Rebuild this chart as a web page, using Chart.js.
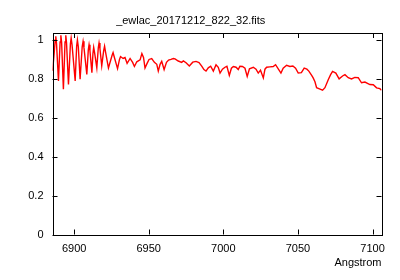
<!DOCTYPE html>
<html>
<head>
<meta charset="utf-8">
<script src="https://cdn.jsdelivr.net/npm/chart.js@4.4.1/dist/chart.umd.min.js"></script>
<style>
  html, body { margin: 0; padding: 0; background: #fff; }
  #wrap { width: 400px; height: 280px; }
</style>
</head>
<body>
<div id="wrap"><canvas id="spec-canvas" width="400" height="280"></canvas></div>
<script>
const titleText = "_ewlac_20171212_822_32.fits"
const xLabel = "Angstrom"
const xTicks = [6900, 6950, 7000, 7050, 7100]
const yTicks = [0, 0.2, 0.4, 0.6, 0.8, 1]

// wavelength (Angstrom) and normalised flux
const wave = [
    6885.6, 6886.6, 6887.3, 6887.7, 6888.2, 6889.5, 6890.6, 6891.1, 6891.6, 6892.8,
    6893.9, 6894.4, 6894.9, 6896.2, 6897.5, 6898.0, 6898.6, 6900.7, 6901.7, 6902.2,
    6902.8, 6904.0, 6905.4, 6906.0, 6906.6, 6908.5, 6909.5, 6910.0, 6910.6, 6911.9,
    6912.6, 6913.1, 6913.7, 6915.2, 6916.2, 6916.7, 6917.3, 6918.5, 6919.8, 6920.4,
    6921.0, 6923.0, 6925.4, 6926.1, 6926.8, 6929.1, 6930.4, 6931.1, 6932.8, 6934.1,
    6935.5, 6937.5, 6939.2, 6940.4, 6942.0, 6944.2, 6945.4, 6946.5, 6947.5, 6948.9,
    6950.2, 6952.0, 6953.8, 6955.4, 6956.4, 6957.6, 6958.7, 6960.3, 6961.9, 6963.3,
    6964.9, 6966.5, 6967.6, 6969.8, 6972.1, 6973.2, 6975.0, 6977.2, 6979.5, 6981.7,
    6983.7, 6985.5, 6987.0, 6988.4, 6989.9, 6991.5, 6993.3, 6995.1, 6996.6, 6997.8,
    6999.4, 7001.1, 7002.4, 7004.0, 7005.4, 7006.7, 7008.5, 7010.0, 7011.1, 7012.8,
    7014.5, 7016.0, 7017.5, 7020.1, 7021.9, 7023.4, 7024.9, 7026.8, 7027.9, 7029.0,
    7031.2, 7033.4, 7035.0, 7036.8, 7038.6, 7040.1, 7042.4, 7044.6, 7046.6, 7048.4,
    7050.2, 7052.3, 7054.2, 7056.0, 7057.3, 7059.2, 7060.2, 7061.4, 7062.5, 7064.0,
    7066.5, 7068.1, 7070.3, 7071.9, 7073.2, 7075.4, 7077.6, 7079.9, 7081.5, 7083.7,
    7085.9, 7088.1, 7090.4, 7092.6, 7094.9, 7098.2, 7100.5, 7102.7, 7104.9, 7106.0
]
const flux = [
    0.842, 0.930, 1.000, 1.019, 0.980, 0.790, 0.990, 1.024, 0.990, 0.747,
    0.990, 1.024, 0.985, 0.772, 0.980, 1.010, 0.975, 0.790, 0.970, 1.000,
    0.965, 0.798, 0.965, 0.993, 0.960, 0.823, 0.950, 0.976, 0.945, 0.832,
    0.930, 0.962, 0.935, 0.857, 0.960, 0.985, 0.955, 0.868, 0.945, 0.968,
    0.940, 0.856, 0.920, 0.935, 0.915, 0.853, 0.900, 0.915, 0.905, 0.910,
    0.880, 0.905, 0.885, 0.864, 0.888, 0.898, 0.930, 0.910, 0.856, 0.880,
    0.900, 0.905, 0.885, 0.875, 0.840, 0.875, 0.890, 0.848, 0.885, 0.897,
    0.900, 0.905, 0.903, 0.892, 0.885, 0.893, 0.883, 0.866, 0.886, 0.890,
    0.884, 0.866, 0.848, 0.840, 0.857, 0.865, 0.840, 0.873, 0.860, 0.830,
    0.850, 0.860, 0.865, 0.818, 0.855, 0.864, 0.860, 0.848, 0.865, 0.864,
    0.855, 0.813, 0.852, 0.860, 0.850, 0.830, 0.845, 0.805, 0.850, 0.860,
    0.862, 0.864, 0.873, 0.852, 0.830, 0.855, 0.870, 0.864, 0.866, 0.855,
    0.830, 0.832, 0.855, 0.850, 0.840, 0.818, 0.805, 0.785, 0.755, 0.750,
    0.742, 0.755, 0.796, 0.822, 0.839, 0.830, 0.800, 0.815, 0.822, 0.806,
    0.800, 0.808, 0.806, 0.780, 0.784, 0.771, 0.770, 0.754, 0.750, 0.742
]

const xMin = 6885.5
const xMax = 7106
const yMin = 0
const yMax = 1.036

const font = { family: "'Liberation Sans', Arial, sans-serif", size: 11, weight: "normal" }

// gnuplot style frame with inward ticks on all four sides
const framePlugin = {
    id: "frame",
    afterDraw(chart) {
        const { ctx, chartArea: a, scales } = chart
        const len = 5
        ctx.save()
        ctx.strokeStyle = "#000"
        ctx.lineWidth = 1
        ctx.beginPath()
        xTicks.forEach(v => {
            const px = Math.round(scales.x.getPixelForValue(v)) + 0.5
            ctx.moveTo(px, a.bottom); ctx.lineTo(px, a.bottom - len)
            ctx.moveTo(px, a.top); ctx.lineTo(px, a.top + len)
        })
        yTicks.forEach(v => {
            const py = Math.round(scales.y.getPixelForValue(v)) + 0.5
            ctx.moveTo(a.left, py); ctx.lineTo(a.left + len, py)
            ctx.moveTo(a.right, py); ctx.lineTo(a.right - len, py)
        })
        ctx.stroke()
        ctx.strokeRect(Math.round(a.left) + 0.5, Math.round(a.top) + 0.5,
            Math.round(a.right - a.left), Math.round(a.bottom - a.top))
        ctx.restore()
    }
}

new Chart(document.getElementById("spec-canvas"), {
    type: "line",
    data: {
        datasets: [{
            label: titleText,
            data: wave.map((w, i) => ({ x: w, y: flux[i] })),
            borderColor: "#ff0000",
            borderWidth: 1.4,
            pointRadius: 0,
            tension: 0,
            fill: false
        }]
    },
    options: {
        responsive: false,
        animation: false,
        devicePixelRatio: 1,
        layout: { padding: { left: 0, right: 18.5, top: 0, bottom: 0 } },
        plugins: {
            legend: { display: false },
            tooltip: { enabled: false },
            title: {
                display: true,
                text: titleText,
                color: "#000",
                font: font,
                padding: { top: 14, bottom: 5.8 }
            }
        },
        scales: {
            x: {
                type: "linear",
                min: xMin,
                max: xMax,
                afterFit: s => { s.height = 45.5 },
                afterBuildTicks: s => { s.ticks = xTicks.map(v => ({ value: v })) },
                grid: { display: false, drawTicks: false },
                border: { display: false },
                ticks: {
                    color: "#000", font: font, padding: 8, maxRotation: 0, includeBounds: false,
                    callback: v => String(v)
                },
                title: {
                    display: true,
                    text: xLabel,
                    align: "end",
                    color: "#000",
                    font: font,
                    padding: { top: 0, bottom: 10.4 }
                }
            },
            y: {
                type: "linear",
                min: yMin,
                max: yMax,
                afterFit: s => { s.width = 52.5 },
                afterBuildTicks: s => { s.ticks = yTicks.map(v => ({ value: v })) },
                grid: { display: false, drawTicks: false },
                border: { display: false },
                ticks: {
                    color: "#000", font: font, padding: 9, includeBounds: false,
                    callback: v => String(v)
                }
            }
        }
    },
    plugins: [framePlugin]
})
</script>
</body>
</html>
